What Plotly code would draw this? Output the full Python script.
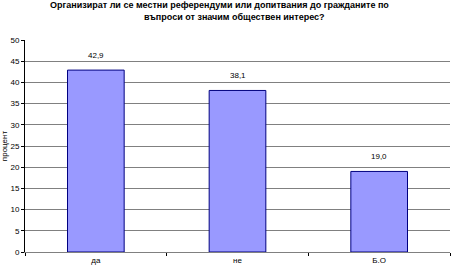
import plotly.graph_objects as go

categories = ["да", "не", "Б.О"]
values = [42.9, 38.1, 19.0]
labels = ["42,9", "38,1", "19,0"]
y_ticks = [0, 5, 10, 15, 20, 25, 30, 35, 40, 45, 50]
title_lines = [
    "Организират ли се местни референдуми или допитвания до гражданите по",
    "въпроси от значим обществен интерес?",
]
title_x = [0.458, 0.492]

font = "Liberation Sans, Arial, sans-serif"

fig = go.Figure(go.Bar(
    x=categories, y=values,
    marker=dict(color="#9999FF", line=dict(color="#000080", width=1)),
    width=0.4,
))

for c, v, t in zip(categories, values, labels):
    fig.add_annotation(x=c, y=v, text=t, showarrow=False, yanchor="bottom",
                       yshift=8, font=dict(family=font, size=8, color="#000000"))

for i, (line, tx) in enumerate(zip(title_lines, title_x)):
    fig.add_annotation(xref="paper", yref="paper", x=tx, y=1 + (35 - 12 * i) / 212,
                       text="<b>" + line + "</b>", showarrow=False,
                       xanchor="center", yanchor="middle",
                       font=dict(family=font, size=9, color="#000000"))

fig.update_layout(
    width=455, height=268,
    margin=dict(l=25, r=5, t=40, b=16, autoexpand=False),
    paper_bgcolor="white", plot_bgcolor="white",
    showlegend=False,
    font=dict(family=font, size=8, color="#000000"),
)

fig.update_yaxes(
    range=[0, 50], tickvals=y_ticks, ticktext=[str(v) for v in y_ticks],
    showgrid=True, gridcolor="#808080", gridwidth=1,
    showline=True, linecolor="#000000", linewidth=1,
    ticks="outside", ticklen=3, tickcolor="#000000",
    tickfont=dict(family=font, size=8),
    title=dict(text="процент", font=dict(family=font, size=8), standoff=5),
    zeroline=False, automargin=False,
)
fig.update_xaxes(
    showline=True, linecolor="#808080", linewidth=1,
    ticks="outside", tickson="boundaries", ticklen=3, tickcolor="#000000",
    tickfont=dict(family=font, size=8), automargin=False,
)

fig.write_html("out.html")
